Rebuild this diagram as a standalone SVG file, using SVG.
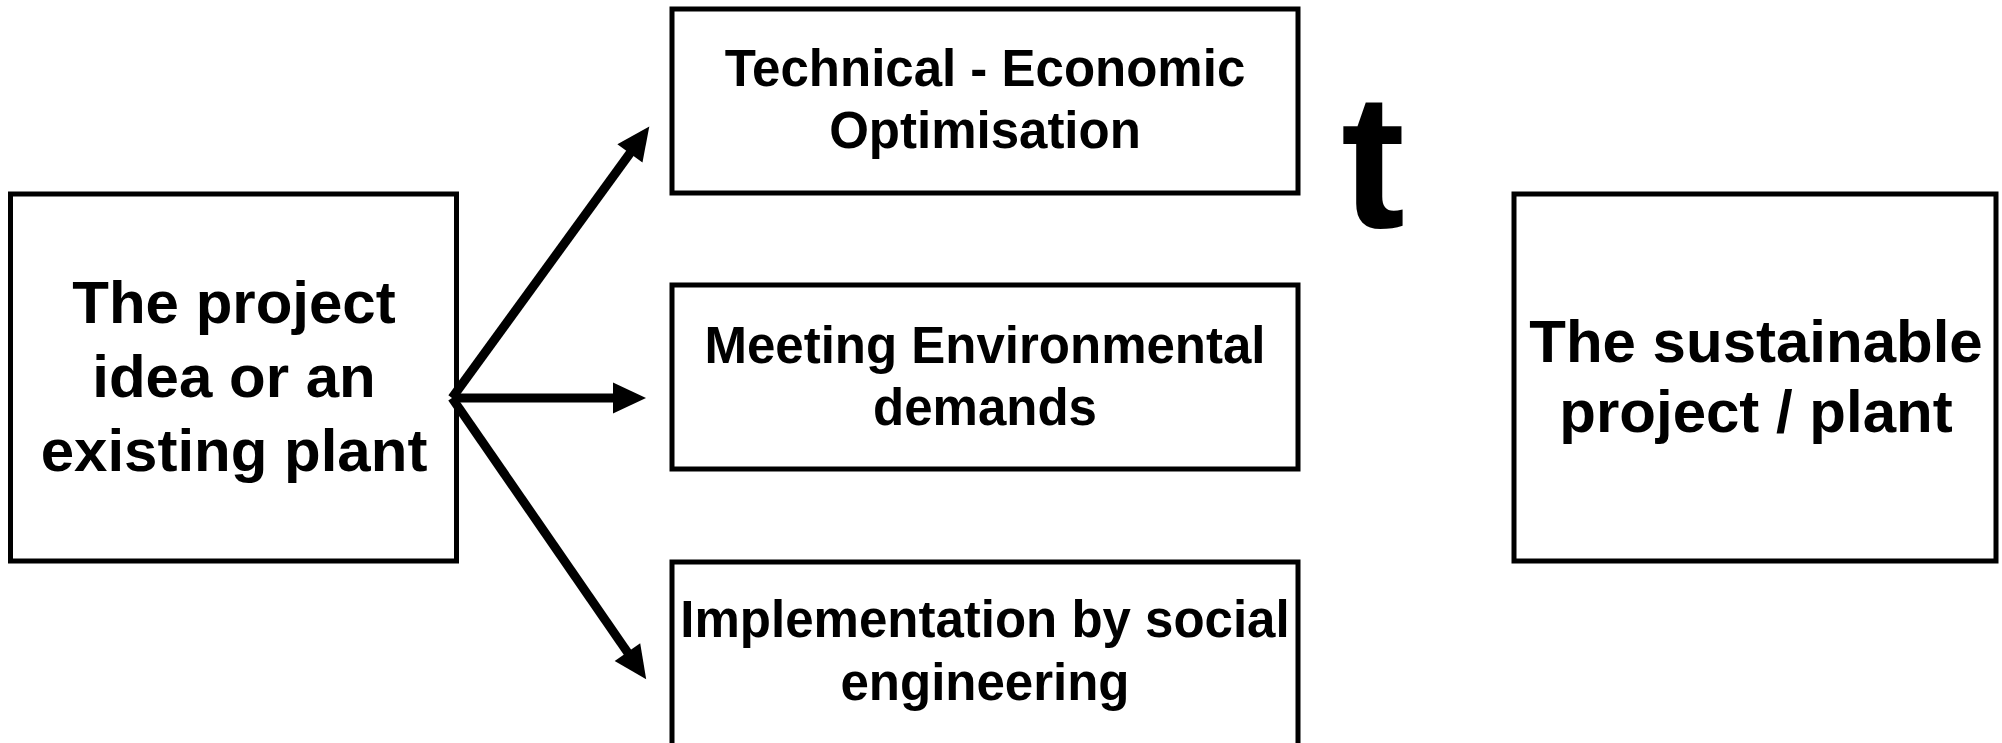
<svg xmlns="http://www.w3.org/2000/svg" width="2002" height="743" viewBox="0 0 2002 743">
  <style>
    .box { fill: #ffffff; stroke: #000000; stroke-width: 5; }
    .lbl { font-family: "Liberation Sans", Arial, sans-serif; font-weight: bold; fill: #000000; text-anchor: middle; }
    .big { font-size: 60px; }
    .mid { font-size: 51px; }
    .conn { stroke: #000000; stroke-width: 9; fill: none; }
  </style>
  <defs>
    <marker id="ah" markerUnits="userSpaceOnUse" markerWidth="33" markerHeight="31" viewBox="0 0 33 31" refX="1" refY="15.5" orient="auto" overflow="visible">
      <path d="M0,0 L33,15.5 L0,31 Z" fill="#000000"/>
    </marker>
  </defs>
  <rect width="2002" height="743" fill="#ffffff"/>

  <g id="node-start">
    <rect class="box" x="10.5" y="194" width="446" height="367"/>
    <text class="lbl big" x="234" y="323">The project</text>
    <text class="lbl big" x="234" y="397">idea or an</text>
    <text class="lbl big" x="234" y="471">existing plant</text>
  </g>

  <g id="node-tech">
    <rect class="box" x="672" y="9" width="626" height="184"/>
    <text class="lbl mid" x="985" y="86">Technical - Economic</text>
    <text class="lbl mid" x="985" y="148">Optimisation</text>
  </g>

  <g id="node-env">
    <rect class="box" x="672" y="285" width="626" height="184"/>
    <text class="lbl mid" x="985" y="363">Meeting Environmental</text>
    <text class="lbl mid" x="985" y="425">demands</text>
  </g>

  <g id="node-social">
    <rect class="box" x="672" y="562" width="626" height="184"/>
    <text class="lbl mid" x="985" y="637">Implementation by social</text>
    <text class="lbl mid" x="985" y="700">engineering</text>
  </g>

  <g id="node-t">
    <text x="1341" y="227" font-family="'Liberation Sans', Arial, sans-serif" font-weight="bold" font-size="192" fill="#000000">t</text>
  </g>

  <g id="node-result">
    <rect class="box" x="1514" y="194" width="482" height="367"/>
    <text class="lbl big" x="1756" y="362">The sustainable</text>
    <text class="lbl big" x="1756" y="432">project / plant</text>
  </g>

  <g id="connectors">
    <line class="conn" x1="452" y1="398" x2="630.5" y2="152.5" marker-end="url(#ah)"/>
    <line class="conn" x1="452" y1="398" x2="614" y2="398" marker-end="url(#ah)"/>
    <line class="conn" x1="452" y1="398" x2="628" y2="653" marker-end="url(#ah)"/>
  </g>
</svg>
